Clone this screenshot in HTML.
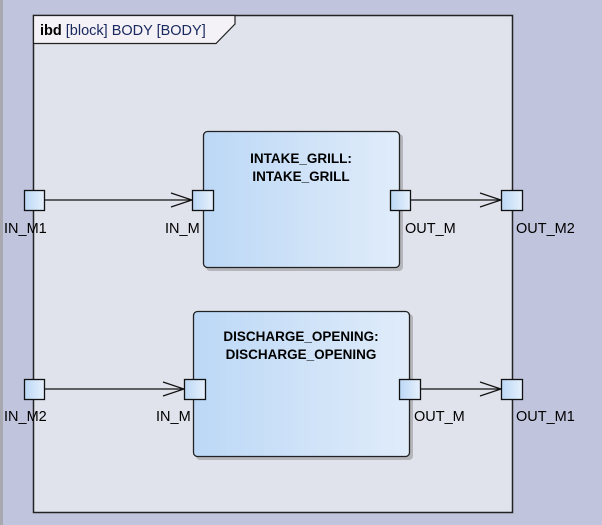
<!DOCTYPE html>
<html><head><style>
body{margin:0;width:602px;height:525px;background:#c0c4dc;overflow:hidden;font-family:"Liberation Sans",sans-serif;}
</style></head><body>
<svg width="602" height="525" xmlns="http://www.w3.org/2000/svg" style="position:absolute;left:0;top:0">
<defs>
<linearGradient id="g" x1="0" x2="1" y1="0" y2="0"><stop offset="0" stop-color="#bcd8f6"/><stop offset="1" stop-color="#e0ecfa"/></linearGradient>
<linearGradient id="p" x1="0" x2="1" y1="0" y2="0"><stop offset="0" stop-color="#bcd8f6"/><stop offset="1" stop-color="#e6f0fc"/></linearGradient>
</defs>
<rect x="0" y="0" width="3" height="525" fill="#a8a8b0"/>
<rect x="33.5" y="15.5" width="479" height="497" fill="#e1e3ec" stroke="#222" stroke-width="1.5"/>
<path d="M33.5 15.5 H235 V24 L216 43.5 H33.5 Z" fill="#f4f2f6" stroke="#222" stroke-width="1.2"/>
<text x="40" y="35" font-size="14.5" fill="#000"><tspan font-weight="bold">ibd</tspan><tspan fill="#1a2a60"> [block] BODY [BODY]</tspan></text>
<rect x="206" y="134" width="197" height="137" rx="4" fill="#8a8a8a" opacity="0.5"/>
<rect x="203.5" y="131.5" width="196" height="136" rx="4" fill="url(#g)" stroke="#222" stroke-width="1.3"/>
<text x="301" y="163" font-size="13.5" font-weight="bold" text-anchor="middle">INTAKE_GRILL:</text>
<text x="301" y="181" font-size="13.5" font-weight="bold" text-anchor="middle">INTAKE_GRILL</text>
<rect x="196" y="314" width="217" height="146" rx="4" fill="#8a8a8a" opacity="0.5"/>
<rect x="193.5" y="311.5" width="216" height="145" rx="4" fill="url(#g)" stroke="#222" stroke-width="1.3"/>
<text x="301" y="341" font-size="13.5" font-weight="bold" text-anchor="middle">DISCHARGE_OPENING:</text>
<text x="301" y="359" font-size="13.5" font-weight="bold" text-anchor="middle">DISCHARGE_OPENING</text>
<g stroke="#111" stroke-width="1.2" fill="none">
<line x1="45" y1="200" x2="192" y2="200"/><polyline points="171,193 192,200 171,207"/>
<line x1="411" y1="200" x2="501" y2="200"/><polyline points="480,193 501,200 480,207"/>
<line x1="45" y1="389" x2="184" y2="389"/><polyline points="163,382 184,389 163,396"/>
<line x1="421" y1="389" x2="501" y2="389"/><polyline points="480,382 501,389 480,396"/>
</g>
<g fill="url(#p)" stroke="#111" stroke-width="1.3">
<rect x="24.5" y="190.5" width="20" height="20"/>
<rect x="192.5" y="190.5" width="21" height="20"/>
<rect x="390.5" y="190.5" width="20" height="20"/>
<rect x="501.5" y="190.5" width="21" height="20"/>
<rect x="24.5" y="379.5" width="20" height="20"/>
<rect x="184.5" y="379.5" width="21" height="20"/>
<rect x="399.5" y="379.5" width="21" height="20"/>
<rect x="501.5" y="379.5" width="21" height="20"/>
</g>
<g font-size="14.5" fill="#000">
<text x="4" y="233">IN_M1</text>
<text x="165" y="233">IN_M</text>
<text x="405" y="233">OUT_M</text>
<text x="516" y="233">OUT_M2</text>
<text x="4" y="421">IN_M2</text>
<text x="156" y="421">IN_M</text>
<text x="414" y="421">OUT_M</text>
<text x="516" y="421">OUT_M1</text>
</g>
</svg>
</body></html>
